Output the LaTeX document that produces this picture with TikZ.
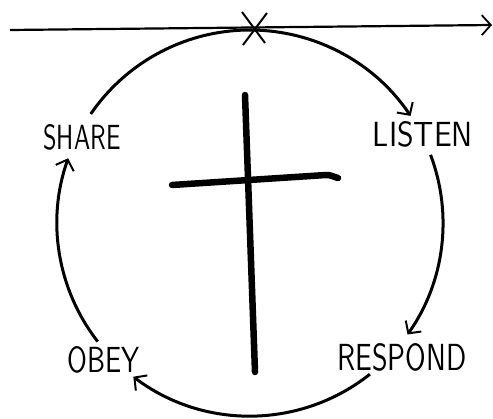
\documentclass[tikz,border=0pt]{standalone}
\usepackage{graphicx}
\usetikzlibrary{arrows.meta,calc}
\begin{document}
\begin{tikzpicture}[x=1pt,y=1pt,
  lbl/.style={inner sep=0pt, font=\sffamily},
  cyclearc/.style={line width=3pt, -{Straight Barb[length=9pt,width=19pt,line width=2pt]}},
  crossbar/.style={line width=6.5pt, line cap=round},
  timeline/.style={line width=2.2pt, -{Straight Barb[length=9pt,width=20pt,line width=1.8pt]}}]
\useasboundingbox (0,0) rectangle (493,418);
\coordinate (c) at (250,195);
% time line
\coordinate (tl0) at (10,388);
\coordinate (tl1) at (492,393);
\draw[timeline] (tl0) -- (tl1);
% X mark
\coordinate (xa) at (242,406); \coordinate (xb) at (265,375);
\coordinate (xc) at (267,405); \coordinate (xd) at (243,373);
\draw[line width=2pt] (xa) -- (xb) (xc) -- (xd);
% labels
\node[lbl] (share) at (82,281) {\resizebox{77pt}{25pt}{SHARE}};
\node[lbl] (listen) at (423,284) {\resizebox{100pt}{25pt}{LISTEN}};
\node[lbl] (obey) at (104,58) {\resizebox{72pt}{26pt}{OBEY}};
\node[lbl] (respond) at (402,61) {\resizebox{129pt}{27pt}{RESPOND}};
% cycle arcs
\draw[cyclearc] ($(c)+(145.6:193)$) arc[start angle=145.6, end angle=33.7, radius=193];
\draw[cyclearc] ($(c)+(20.7:193)$) arc[start angle=20.7, end angle=-35.3, radius=193];
\draw[cyclearc] ($(c)+(-51.6:193)$) arc[start angle=-51.6, end angle=-127.2, radius=193];
\draw[cyclearc] ($(c)+(217.9:193)$) arc[start angle=217.9, end angle=160.4, radius=193];
% cross
\coordinate (vt) at (245,323); \coordinate (vb) at (255,46);
\coordinate (hl) at (172,233); \coordinate (hm) at (326,243); \coordinate (hr) at (338,240);
\draw[crossbar] (vt) -- (vb);
\draw[crossbar] (hl) -- (hm) to[out=2,in=165] (hr);
\end{tikzpicture}
\end{document}
